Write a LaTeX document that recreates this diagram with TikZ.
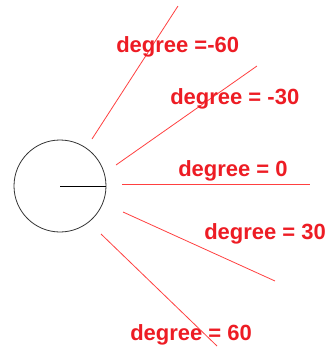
\documentclass[tikz,border=0pt]{standalone}
\usepackage{fontspec}
\setmainfont{Liberation Sans}
\usetikzlibrary{positioning}
\definecolor{labelred}{RGB}{237,28,36}

\begin{document}
\begin{tikzpicture}[x=0.75pt,y=-0.75pt,
  ray/.style={red!75,line width=0.6pt},
  lbl/.style={text=labelred,font=\fontsize{16.5}{18}\selectfont\bfseries,anchor=base west,inner sep=0pt}]
  \useasboundingbox (0,0) rectangle (330,347);
  % circle with its radius
  \coordinate (c) at (60,186);
  \draw[black!80,line width=0.6pt] (c) circle[radius=46];
  \coordinate (r) at (106,186);
  \draw[black,line width=0.6pt] (c) -- (r);
  % rays
  \coordinate (a1) at (92,139);  \coordinate (b1) at (178,6);
  \coordinate (a2) at (116,165); \coordinate (b2) at (257,66);
  \coordinate (a3) at (122,184); \coordinate (b3) at (310,184);
  \coordinate (a4) at (123,212); \coordinate (b4) at (275,281);
  \coordinate (a5) at (101,234); \coordinate (b5) at (217,346);
  \foreach \i in {1,...,5}
    \draw[ray] (a\i) -- (b\i);
  % labels
  \node[lbl] (lm60) at (116,52)  {degree =-60};
  \node[lbl] (lm30) at (170,104) {degree = -30};
  \node[lbl] (l0)   at (178,176) {degree = 0};
  \node[lbl] (l30)  at (204,239) {degree = 30};
  \node[lbl] (l60)  at (130,340) {degree = 60};
\end{tikzpicture}
\end{document}
